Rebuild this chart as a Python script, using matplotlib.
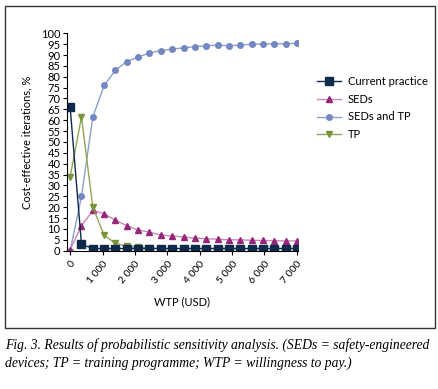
import numpy as np
import matplotlib.pyplot as plt
from matplotlib.patches import Rectangle
from matplotlib.ticker import FuncFormatter

# WTP steps (USD)
wtp = np.arange(0, 7001, 350)

current_practice = [66, 3, 1, 1, 1, 1, 1, 1, 1, 1, 1, 1, 1, 1, 1, 1, 1, 1, 1, 1, 1]
seds = [0.5, 11.5, 18.5, 17, 14, 11.5, 9.5, 8.5, 7.2, 6.8, 6.3, 5.8, 5.5, 5.3, 5.0, 5.0, 4.8, 4.7, 4.6, 4.5, 4.5]
seds_tp = [0, 25, 61.5, 76, 83, 87, 89, 91, 92, 92.7, 93.3, 93.8, 94.3, 94.5, 94.3, 94.5, 95, 95, 95.2, 95.2, 95.3]
tp = [34, 61.5, 20, 7, 3.5, 2, 1.5, 1.2, 1, 1, 1, 1, 1, 1, 1, 1, 1, 1, 1, 1, 1]

plt.rcParams['font.family'] = ['Lato', 'DejaVu Sans']

fig = plt.figure(figsize=(4.38, 3.89), dpi=100)
ax = fig.add_axes([0.152, 0.3555, 0.528, 0.559])

ax.plot(wtp, seds_tp, color='#8d9fcc', marker='o', markersize=4, markerfacecolor='#7387c0',
        markeredgecolor='#7387c0', lw=1, label='SEDs and TP')
ax.plot(wtp, seds, color='#c98ab7', marker='^', markersize=5, markerfacecolor='#97267a',
        markeredgecolor='#97267a', lw=1, label='SEDs')
ax.plot(wtp, tp, color='#8fa655', marker='v', markersize=5, markerfacecolor='#7a9438',
        markeredgecolor='#7a9438', lw=1, label='TP')
ax.plot(wtp, current_practice, color='#0f2a4a', marker='s', markersize=5.5, markerfacecolor='#0f2a4a',
        markeredgecolor='#0f2a4a', lw=1, label='Current practice')

ax.set_xlim(-110, 7030)
ax.set_ylim(0, 100)
ax.set_yticks(np.arange(0, 101, 5))
ax.set_xticks(np.arange(0, 7001, 1000))
ax.xaxis.set_major_formatter(FuncFormatter(lambda v, p: f"{int(v):,}".replace(',', ' ')))
ax.tick_params(labelsize=8, length=3, width=0.8, pad=1.5)
ax.tick_params(axis='x', pad=3, labelsize=7.5)
for lbl in ax.get_xticklabels():
    lbl.set_rotation(50)
    lbl.set_ha('right')
    lbl.set_rotation_mode('anchor')
ax.spines['top'].set_visible(False)
ax.spines['right'].set_visible(False)
ax.set_ylabel('Cost-effective iterations, %', fontsize=8, labelpad=6)
ax.set_xlabel('WTP (USD)', fontsize=8, labelpad=8)

handles, labels = ax.get_legend_handles_labels()
order = [labels.index(n) for n in ['Current practice', 'SEDs', 'SEDs and TP', 'TP']]
fig.legend([handles[i] for i in order], [labels[i] for i in order], loc='upper left',
           bbox_to_anchor=(0.7, 0.83), frameon=False, fontsize=8, handlelength=2.2,
           labelspacing=0.6, handletextpad=0.6)

fig.patches.append(Rectangle((5 / 438, 1 - 328 / 389), 430 / 438, 322 / 389,
                             transform=fig.transFigure, fill=False, edgecolor='#333333', lw=1))

fig.text(5 / 438, 1 - 345 / 389, 'Fig. 3. Results of probabilistic sensitivity analysis. (SEDs = safety-engineered',
         family='Liberation Serif', style='italic', fontsize=9.8, va='center', ha='left')
fig.text(5 / 438, 1 - 363 / 389, 'devices; TP = training programme; WTP = willingness to pay.)',
         family='Liberation Serif', style='italic', fontsize=9.8, va='center', ha='left')

fig.savefig('out.png', dpi=100)
